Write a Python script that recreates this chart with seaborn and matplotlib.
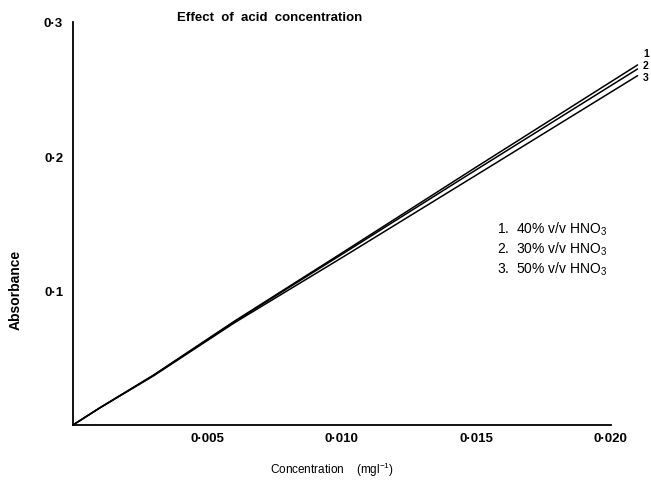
import numpy as np
import pandas as pd
import matplotlib
matplotlib.use("Agg")
import matplotlib.pyplot as plt
import seaborn as sns

# ---- data ----
conc = [0.0, 0.001, 0.003, 0.006, 0.010, 0.015, 0.021]
acid_40 = [0.0, 0.0128, 0.0372, 0.0772, 0.1280, 0.1920, 0.2680]
acid_30 = [0.0, 0.0128, 0.0370, 0.0768, 0.1270, 0.1900, 0.2650]
acid_50 = [0.0, 0.0127, 0.0366, 0.0760, 0.1245, 0.1860, 0.2600]
series_ids = ["1", "2", "3"]
legend_labels = ["1.  40% v/v HNO$_\\mathregular{3}$",
                 "2.  30% v/v HNO$_\\mathregular{3}$",
                 "3.  50% v/v HNO$_\\mathregular{3}$"]
x_ticks = [0.005, 0.010, 0.015, 0.020]
x_tick_labels = ["0·005", "0·010", "0·015", "0·020"]
y_ticks = [0.1, 0.2, 0.3]
y_tick_labels = ["0·1", "0·2", "0·3"]

df = pd.DataFrame({
    "conc": conc * 3,
    "abs": acid_40 + acid_30 + acid_50,
    "series": sum([[s] * len(conc) for s in series_ids], []),
})

sns.set_theme(style="white")
plt.rcParams["font.family"] = ["Liberation Sans", "DejaVu Sans"]
plt.rcParams["mathtext.fontset"] = "custom"
plt.rcParams["mathtext.rm"] = "Liberation Sans"
plt.rcParams["text.color"] = "black"

fig = plt.figure(figsize=(6.51, 4.81), dpi=100)
ax = fig.add_axes([0.112, 0.1143, 0.888, 0.838])

sns.lineplot(data=df, x="conc", y="abs", hue="series",
             palette=["black", "black", "black"], linewidth=1.1,
             legend=False, ax=ax, clip_on=False)
ax.set_xlabel("")
ax.set_ylabel("")

ax.set_xlim(0, 0.0215)
ax.set_ylim(0, 0.3)
for s in ["top", "right"]:
    ax.spines[s].set_visible(False)
ax.spines["bottom"].set_bounds(0, 0.020)
ax.spines["left"].set_bounds(0, 0.3)
for s in ["left", "bottom"]:
    ax.spines[s].set_linewidth(1.3)
    ax.spines[s].set_color("black")

ax.set_xticks(x_ticks)
ax.set_xticklabels(x_tick_labels, fontsize=9.5, fontweight="bold")
ax.set_yticks(y_ticks)
ax.set_yticklabels(y_tick_labels, fontsize=9.5, fontweight="bold")
ax.tick_params(axis="x", direction="in", length=4, width=1.2, pad=5, colors="black")
ax.tick_params(axis="y", direction="out", length=5, width=1.2, pad=2, colors="black")

fig.text(332 / 651, 1 - 470 / 481, "Concentration    (mgl$^{\\mathregular{-1}}$)",
         fontsize=8.5, ha="center", va="center", color="black")
fig.text(16 / 651, 1 - 290 / 481, "Absorbance", fontsize=10, fontweight="bold",
         rotation=90, ha="center", va="center", color="black")

# end-of-line labels
label_y = [0.2770, 0.2680, 0.2590]
for sid, yv in zip(series_ids, label_y):
    ax.text(conc[-1] + 0.0002, yv, sid, fontsize=7.5, fontweight="bold",
            ha="left", va="center", clip_on=False, color="black")

# legend text block
for i, lab in enumerate(legend_labels):
    ax.text(0.01578, 0.1465 - i * 0.0148, lab, fontsize=10, ha="left",
            va="center", color="black")

fig.text(0.272, 0.962, "Effect  of  acid  concentration", fontsize=9.5,
         fontweight="bold", ha="left", va="center", color="black")

fig.savefig("out.png", dpi=100, facecolor="white")
